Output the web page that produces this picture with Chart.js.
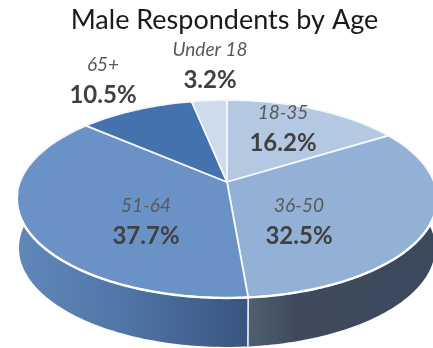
<!DOCTYPE html>
<html>
<head>
<meta charset="utf-8">
<style>
  html, body { margin: 0; padding: 0; background: #fff; overflow: hidden; }
  canvas { display: block; }
</style>
<script src="https://cdn.jsdelivr.net/npm/chart.js@4"></script>
</head>
<body>
<canvas id="agePie" width="433" height="348"></canvas>
<script>
// Chart data
const ageGroups = ['18-35', '36-50', '51-64', '65+', 'Under 18'];
const shares = [16.2, 32.5, 37.7, 10.5, 3.2];
const sliceColors = ['#b4c8e1', '#93b0d6', '#6a92c6', '#4472ae', '#cddbec'];

// Where each label sits on the page, same order as ageGroups
const labelX = [283, 299, 146, 103, 210];
const labelY = [113, 206, 206, 65, 50];

// Tilted disc: the centre of the pie is seen above the middle of the ellipse
const disc = { x: 227, y: 182, across: 207, back: 96, tilt: -0.172, depth: 49 };

function project(angle, drop) {
    const u = Math.cos(angle);
    const v = Math.sin(angle);
    const w = 1 + disc.tilt * v;
    const narrow = drop ? 0.99 : 1;
    return {
        x: disc.x + narrow * disc.across * u / w,
        y: disc.y + disc.back * v / w + (drop ? disc.depth : 0)
    };
}

function rimPoints(start, end, drop) {
    const steps = Math.max(2, Math.ceil((end - start) * 60));
    const points = [];
    for (let i = 0; i <= steps; i++) {
        points.push(project(start + (end - start) * i / steps, drop));
    }
    return points;
}

function tracePolygon(ctx, points) {
    ctx.beginPath();
    points.forEach((p, i) => i ? ctx.lineTo(p.x, p.y) : ctx.moveTo(p.x, p.y));
    ctx.closePath();
}

function wallFill(ctx, index) {
    const g = ctx.createLinearGradient(index === 1 ? 249 : 19, 0, index === 1 ? 433 : 249, 0);
    if (index === 1) {
        g.addColorStop(0, '#4e5f70');
        g.addColorStop(0.25, '#3f4b5c');
        g.addColorStop(1, '#3b495c');
    } else {
        g.addColorStop(0, '#5f88b9');
        g.addColorStop(0.45, '#4f76a6');
        g.addColorStop(1, '#3a5380');
    }
    return g;
}

const tiltedPie = {
    id: 'tiltedPie',
    beforeDatasetDraw(chart) {
        const ctx = chart.ctx;
        const arcs = chart.getDatasetMeta(0).data;
        ctx.save();

        // Outer wall first, the top face covers the part at the back
        arcs.forEach((arc, i) => {
            const top = rimPoints(arc.startAngle, arc.endAngle, false);
            const low = rimPoints(arc.startAngle, arc.endAngle, true).reverse();
            tracePolygon(ctx, top.concat(low));
            ctx.fillStyle = i < 3 ? wallFill(ctx, i) : sliceColors[i];
            ctx.fill();
        });
        // Seam between the two visible wall pieces
        const seamTop = project(arcs[1].endAngle, false);
        const seamLow = project(arcs[1].endAngle, true);
        ctx.strokeStyle = '#fff';
        ctx.lineWidth = 1.5;
        ctx.beginPath();
        ctx.moveTo(seamTop.x, seamTop.y);
        ctx.lineTo(seamLow.x, seamLow.y);
        ctx.stroke();

        // Top face
        arcs.forEach((arc, i) => {
            const points = [{ x: disc.x, y: disc.y }].concat(rimPoints(arc.startAngle, arc.endAngle, false));
            tracePolygon(ctx, points);
            ctx.fillStyle = sliceColors[i];
            ctx.fill();
            ctx.lineJoin = 'round';
            ctx.lineWidth = 1.8;
            ctx.strokeStyle = '#f4f7fb';
            ctx.stroke();
        });

        // Heavier white edge where the top face meets the wall
        const frontRim = rimPoints(0.1, Math.PI - 0.1, false);
        ctx.beginPath();
        frontRim.forEach((p, i) => i ? ctx.lineTo(p.x, p.y) : ctx.moveTo(p.x, p.y));
        ctx.lineWidth = 2.4;
        ctx.strokeStyle = '#fff';
        ctx.stroke();

        // Labels
        ctx.textAlign = 'center';
        ctx.textBaseline = 'middle';
        ageGroups.forEach((name, i) => {
            ctx.font = 'italic 19px Lato';
            ctx.fillStyle = '#595959';
            ctx.fillText(name, labelX[i], labelY[i]);
            ctx.font = 'bold 24px Lato';
            ctx.fillStyle = '#404040';
            ctx.fillText(shares[i].toFixed(1) + '%', labelX[i], labelY[i] + 30);
        });

        ctx.restore();
        return false;
    }
};

new Chart(document.getElementById('agePie'), {
    type: 'pie',
    data: {
        labels: ageGroups,
        datasets: [{
            data: shares,
            backgroundColor: sliceColors
        }]
    },
    options: {
        responsive: false,
        animation: false,
        layout: { padding: { left: 16 } },
        plugins: {
            legend: { display: false },
            tooltip: { enabled: false },
            title: {
                display: true,
                text: 'Male Respondents by Age',
                color: '#1a1a1a',
                font: { family: 'Lato', size: 27, weight: 'normal' },
                padding: { top: 4, bottom: 0 }
            }
        }
    },
    plugins: [tiltedPie]
});
</script>
</body>
</html>
